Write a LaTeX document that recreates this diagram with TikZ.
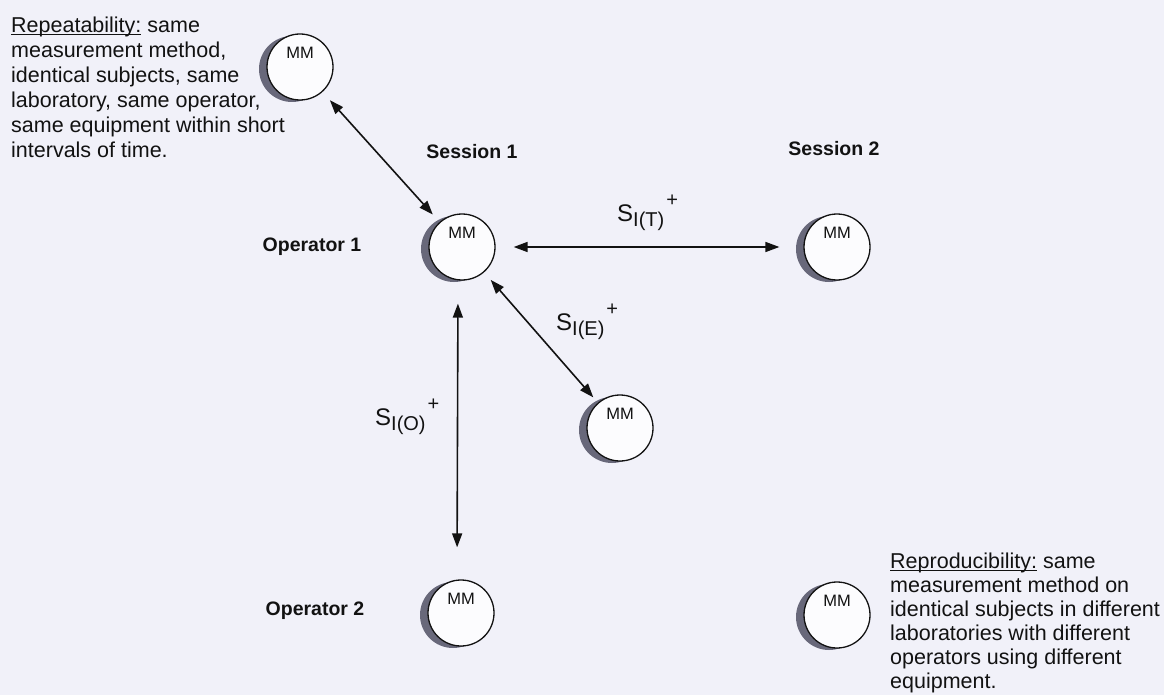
\documentclass[tikz,border=0pt]{standalone}
\usepackage{fontspec}
\setmainfont{Liberation Sans}
\usetikzlibrary{arrows.meta,shadows}

\definecolor{pagebg}{RGB}{241,241,249}
\definecolor{discfill}{RGB}{252,252,254}
\definecolor{crescent}{RGB}{104,104,122}
\definecolor{ink}{RGB}{18,18,18}

% underline that sits just under the baseline
\newcommand\ulword[1]{\setbox0\hbox{#1}\rlap{\rule[-2.6pt]{\wd0}{1.2pt}}\box0\relax}
% S_{I(x)}^{+} with the proportions used in the figure
\newcommand\sdev[1]{{\fontsize{24}{24}\selectfont S}{\fontsize{20}{20}\selectfont\raisebox{-5pt}{I(#1)}}\kern2pt\raisebox{15pt}{\fontsize{20}{20}\selectfont +}}

\begin{document}
\begin{tikzpicture}[x=1pt,y=-1pt,
  mm/.style={circle, draw=ink, line width=1.3pt, minimum size=66pt, inner sep=0pt,
    fill=discfill,
    drop shadow={shadow xshift=-8pt, shadow yshift=-2pt, opacity=1, fill=crescent},
    label={[mmlbl]center:MM}},
  mmlbl/.style={font=\fontsize{16.5}{16.5}\selectfont, text=ink, yshift=14pt, inner sep=0pt},
  heading/.style={font=\bfseries\fontsize{19.5}{22}\selectfont, text=ink, inner sep=0pt},
  note/.style={align=left, inner sep=0pt, text=ink},
  dev/.style={anchor=base west, inner sep=0pt, text=ink},
  dblarrow/.style={{Triangle[length=14pt,width=10pt]}-{Triangle[length=14pt,width=10pt]},
    line width=1.6pt, draw=ink}]

\fill[pagebg] (0,0) rectangle (1164,695);
\useasboundingbox (0,0) rectangle (1164,695);

% measurement-method discs
\node[mm] (mmR)  at (300,67)  {};
\node[mm] (mm1)  at (462,247) {};
\node[mm] (mm2)  at (837,247) {};
\node[mm] (mmE)  at (620,428) {};
\node[mm] (mmO2) at (461,613) {};
\node[mm] (mmRep) at (837,615) {};

% headings
\node[heading] (sess1) at (472,152) {Session 1};
\node[heading] (sess2) at (834,149) {Session 2};
\node[heading] (op1)   at (312,247) {Operator 1};
\node[heading] (op2)   at (315,611) {Operator 2};

% explanatory notes
\node[note, anchor=north west, font=\fontsize{21.5}{25}\selectfont] (repnote) at (11,16.5)
  {\ulword{Repeatability:} same\\ measurement method,\\ identical subjects, same\\
   laboratory, same operator,\\ same equipment within short\\ intervals of time.};
\node[note, anchor=north west, font=\fontsize{21.5}{24}\selectfont] (reprnote) at (890,552.5)
  {\ulword{Reproducibility:} same\\ measurement method on\\ identical subjects in different\\
   laboratories with different\\ operators using different\\ equipment.};

% variability labels
\node[dev] (sT) at (617,222) {\sdev{T}};
\node[dev] (sE) at (556,330) {\sdev{E}};
\node[dev] (sO) at (375,425) {\sdev{O}};

% connectors
\draw[dblarrow, shorten <=11pt, shorten >=10pt] (mmR) -- (mm1);
\draw[dblarrow, shorten <=18pt, shorten >=24pt] (mm1) -- (mm2);
\draw[dblarrow, shorten <=10pt, shorten >=7pt] (mm1) -- (mmE);
\draw[dblarrow, shorten <=23pt, shorten >=32pt] ([xshift=-4pt]mm1.south) -- ([xshift=-4pt]mmO2.north);
\end{tikzpicture}
\end{document}
